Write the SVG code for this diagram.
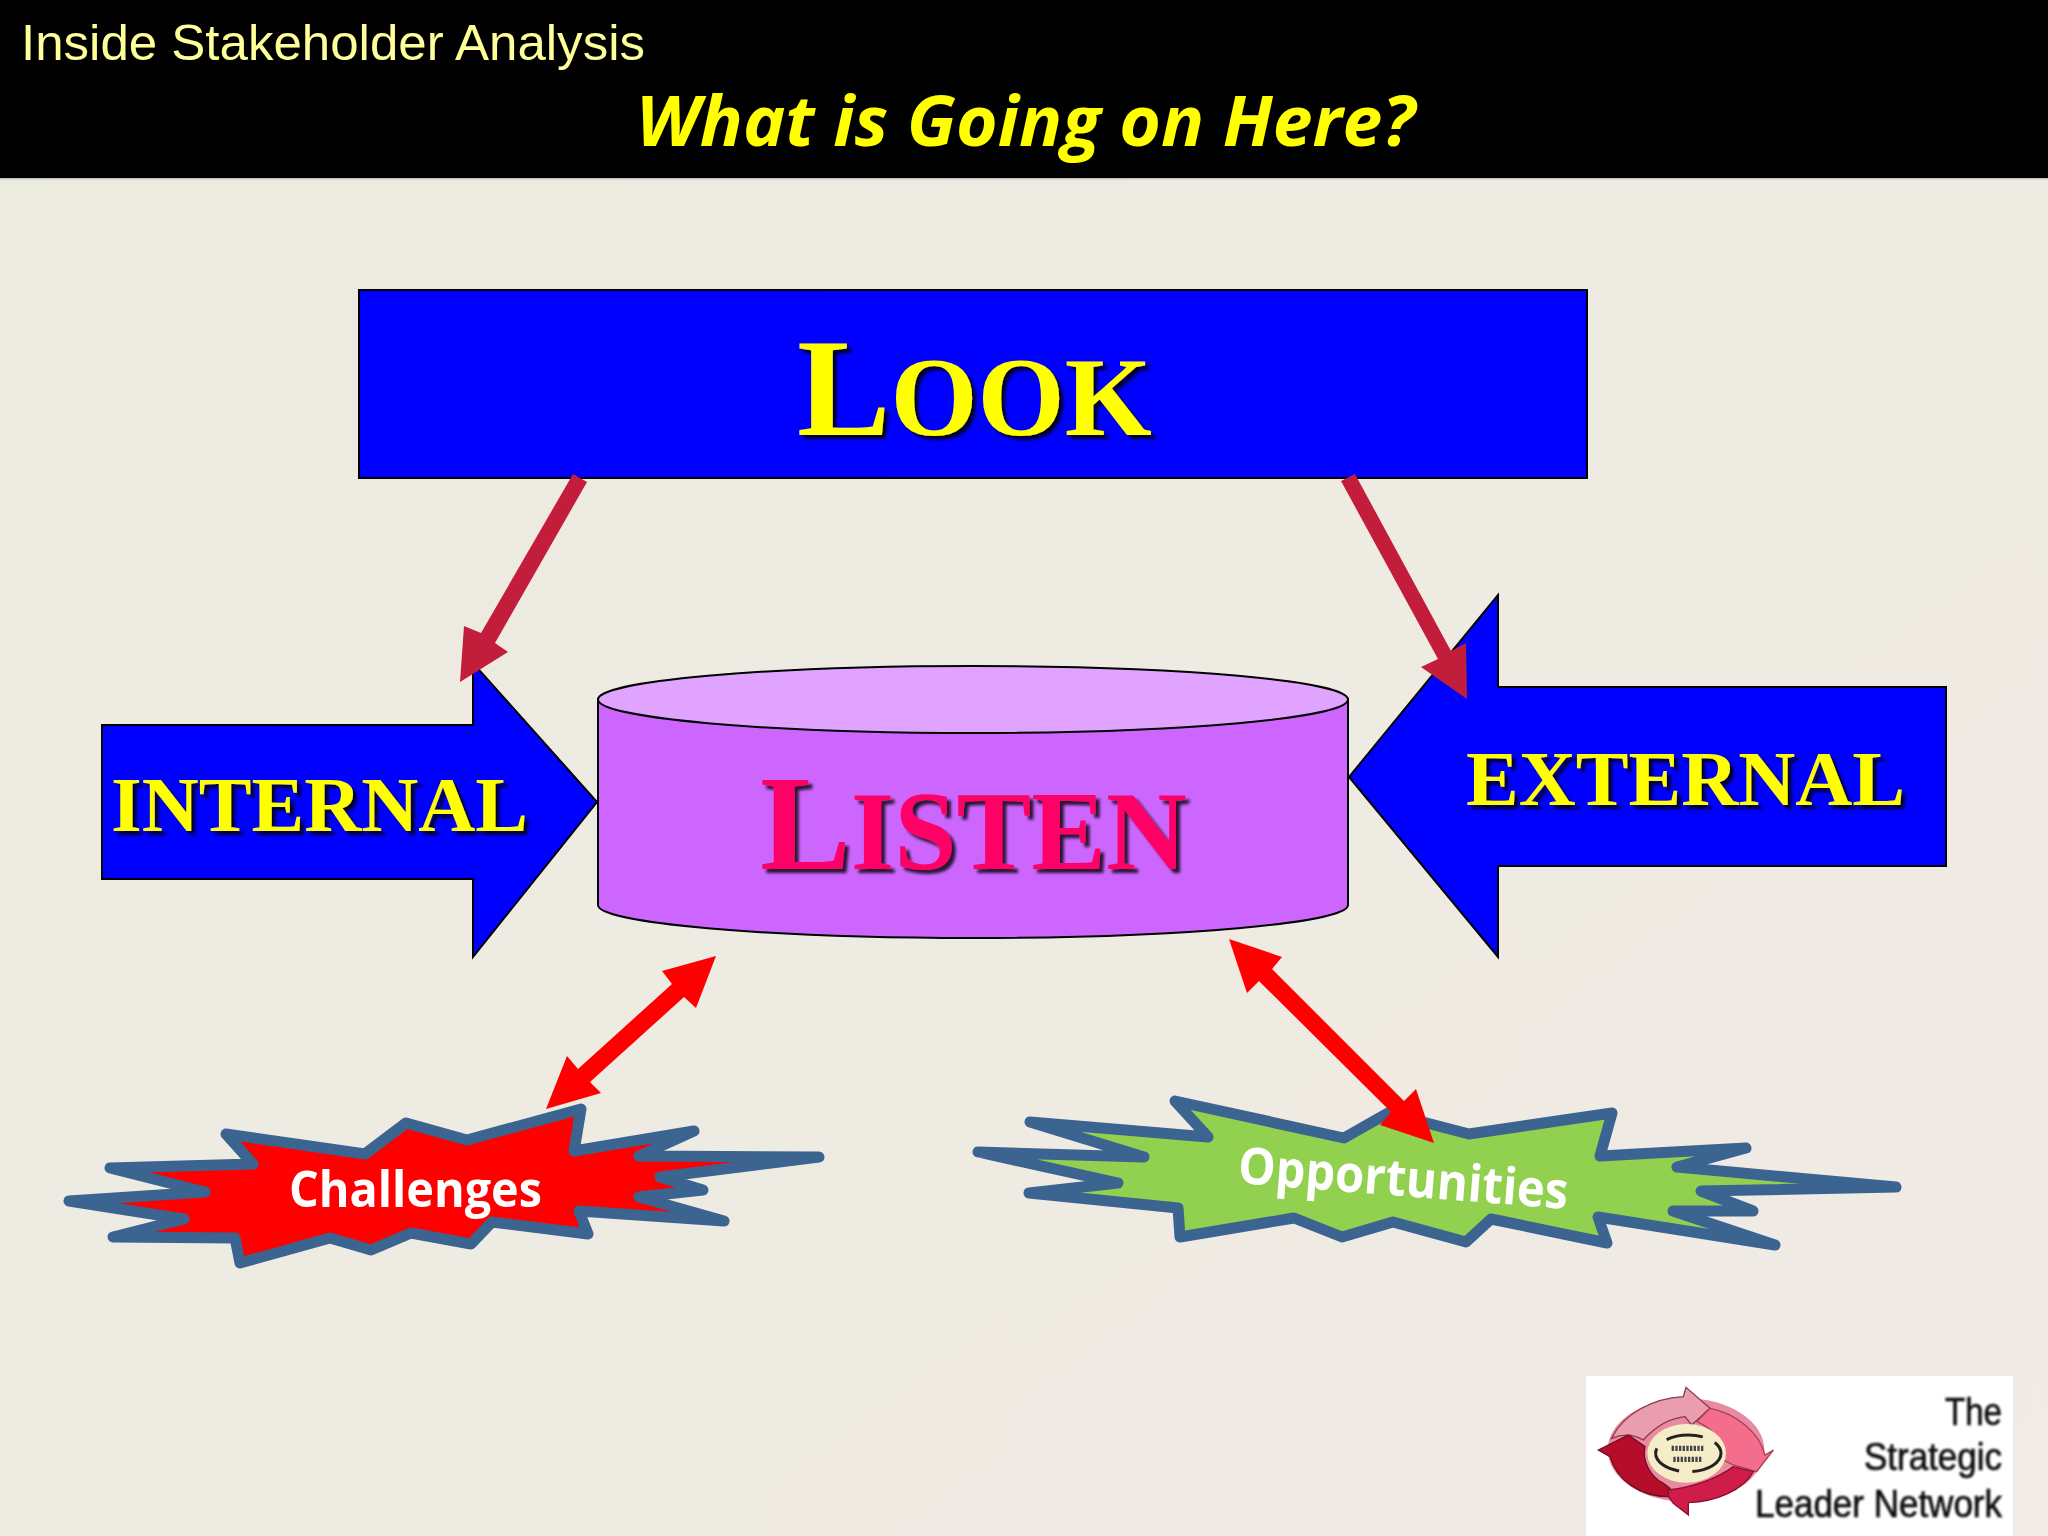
<svg xmlns="http://www.w3.org/2000/svg" width="2048" height="1536" viewBox="0 0 2048 1536">
<style>
.serif{font-family:"Liberation Serif","Times New Roman",serif;font-weight:700}
.yl{fill:#ffff00;filter:url(#sh)}
.edge{stroke:#000;stroke-width:2}
.blue{fill:#0000ff}
.star{stroke:#3c6490;stroke-width:11;stroke-linejoin:round}
.cal{font-family:"Open Sans","Noto Sans",sans-serif;font-weight:700;fill:#fff}
.crimson{fill:#c21e3c}
.red{fill:#ff0000}
</style>
<defs>
<linearGradient id="bg" x1="0" y1="0" x2="1" y2="1"><stop offset="0" stop-color="#ecebdf"/><stop offset="1" stop-color="#f0ebe5"/></linearGradient>
<filter id="sh" x="-10%" y="-10%" width="120%" height="130%"><feDropShadow dx="4" dy="4" stdDeviation="1.5" flood-color="#000" flood-opacity=".8"/></filter>
<filter id="soft" x="-5%" y="-5%" width="110%" height="110%"><feGaussianBlur stdDeviation="0.9"/></filter>
</defs>
<rect width="2048" height="1536" fill="url(#bg)"/>
<g id="header">
<rect width="2048" height="178" fill="#000"/>
<rect y="178" width="2048" height="1.500" fill="#c4c4bc"/>
<text x="21" y="60" font-family="Liberation Sans, Arial, sans-serif" font-size="50" fill="#ffff99" textLength="624" lengthAdjust="spacingAndGlyphs">Inside Stakeholder Analysis</text>
<text x="636" y="146" font-family="Open Sans, Noto Sans, sans-serif" font-size="69" font-weight="700" font-style="italic" fill="#ffff00" textLength="779" lengthAdjust="spacingAndGlyphs">What is Going on Here?</text>
</g>
<g id="look">
<rect class="blue edge" x="359" y="290" width="1228" height="188"/>
<text class="serif yl" x="797" y="435" font-size="112"><tspan font-size="140">L</tspan>OOK</text>
</g>
<g id="internal">
<polygon class="blue edge" points="102,725 473,725 473,663 597,802 473,957 473,879 102,879"/>
<text class="serif yl" x="111" y="831" font-size="79">INTERNAL</text>
</g>
<g id="external">
<polygon class="blue edge" points="1946,687 1498,687 1498,595 1349,777 1498,957 1498,866 1946,866"/>
<text class="serif yl" x="1466" y="805" font-size="79">EXTERNAL</text>
</g>
<g id="listen">
<path class="edge" fill="#cc66ff" d="M598,699V905C598,923 766,938 973,938S1348,923 1348,905V699Z"/>
<ellipse class="edge" fill="#e0a3ff" cx="973" cy="699.500" rx="375" ry="33.500"/>
<text class="serif" x="760" y="869" font-size="112" fill="#ff0066" filter="url(#sh)"><tspan font-size="136">L</tspan>ISTEN</text>
</g>
<g id="challenges">
<polygon class="star red" points="69,1201 205,1192 110,1168 253,1164 226,1134 365,1154 406,1123 467,1140 581,1109 574,1151 694,1131 639,1156 819,1157 660,1177 703,1190 639,1197 724,1221 579,1211 588,1234 492,1222 471,1244 411,1233 371,1250 330,1238 240,1263 235,1238 113,1237 184,1219"/>
<text class="cal" x="289" y="1207" font-size="51" textLength="253" lengthAdjust="spacingAndGlyphs">Challenges</text>
</g>
<g id="opportunities">
<polygon class="star" fill="#92d050" points="978,1152 1144,1157 1030,1122 1208,1137 1175,1101 1344,1138 1388,1113 1469,1134 1612,1113 1600,1156 1746,1148 1677,1167 1896,1187 1701,1191 1753,1211 1673,1211 1775,1245 1598,1217 1607,1243 1491,1219 1466,1242 1393,1222 1342,1237 1294,1218 1180,1237 1178,1208 1029,1193 1118,1183"/>
<text class="cal" transform="translate(1237 1183) rotate(4.500)" font-size="51" textLength="331" lengthAdjust="spacingAndGlyphs">Opportunities</text>
</g>
<g id="connectors">
<polygon class="crimson" points="573,474 587,482 495,643 508,652 460,682 464,626 481,633"/>
<polygon class="crimson" points="1341,481 1355,474 1451,651 1466,643 1467,699 1421,667 1438,659"/>
<polygon class="red" points="716,956 696,1008 684,997 590,1082 601,1093 546,1109 567,1056 578,1069 672,984 662,971"/>
<polygon class="red" points="1229,939 1282,957 1272,969 1404,1101 1416,1089 1434,1143 1380,1125 1391,1112 1259,981 1247,993"/>
</g>
<g id="logo">
<rect x="1586" y="1376" width="427" height="160" fill="#fff"/>
<g transform="translate(1560 1350) scale(.3333)" filter="url(#soft)">
<ellipse cx="378" cy="300" rx="235" ry="155" fill="#e88aa0"/>
<path fill="#eb9db0" stroke="#8a3a4a" stroke-width="4" d="M155,265C190,190 280,145 370,140L378,112 450,175 395,225 375,200C330,205 290,225 250,270 225,255 190,250 155,265Z"/>
<path fill="#f46d8c" stroke="#a84058" stroke-width="4" d="M450,175C530,190 600,250 615,315L640,300 590,365 520,345 490,330C495,280 460,235 410,215Z"/>
<path fill="#b5082a" stroke="#6a1020" stroke-width="4" d="M115,300L205,255 255,290C245,330 270,380 310,400L330,415 325,440C240,440 170,390 150,320Z"/>
<path fill="#d01c48" stroke="#8a1030" stroke-width="4" d="M325,420C410,410 480,380 520,350L580,365C550,420 470,455 385,458L385,495 340,460 325,440Z"/>
<ellipse cx="380" cy="310" rx="118" ry="88" fill="#f5ecc8"/>
<ellipse cx="385" cy="310" rx="98" ry="55" fill="none" stroke="#222" stroke-width="9" stroke-dasharray="110 40"/>
<path fill="none" stroke="#444" stroke-width="16" stroke-dasharray="7 4" d="M335,295H430M340,328H425"/>
</g>
<g font-family="Liberation Sans, Arial, sans-serif" font-size="39" fill="#111" stroke="#111" stroke-width=".7" filter="url(#soft)">
<text x="1945" y="1425" textLength="57" lengthAdjust="spacingAndGlyphs">The</text>
<text x="1864" y="1470" textLength="138" lengthAdjust="spacingAndGlyphs">Strategic</text>
<text x="1755" y="1517" textLength="247" lengthAdjust="spacingAndGlyphs">Leader Network</text>
</g>
</g>
</svg>
